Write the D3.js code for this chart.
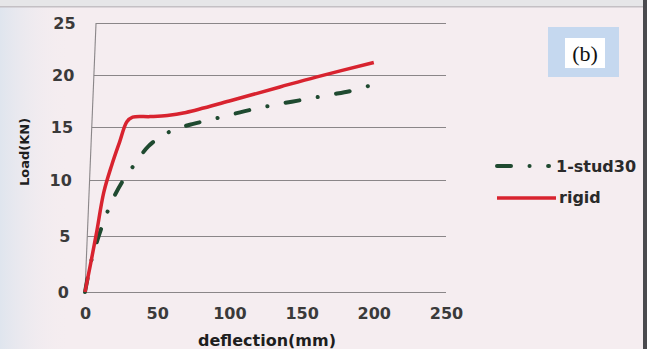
<!DOCTYPE html>
<html>
<head>
<meta charset="utf-8">
<script src="https://cdn.jsdelivr.net/npm/d3@7"></script>
<style>
  html, body { margin: 0; padding: 0; background: #f5edf0; }
  svg { display: block; }
  text { font-family: "DejaVu Sans", sans-serif; }
</style>
</head>
<body>
<svg id="chart" width="647" height="349"></svg>
<script>
"use strict";
// values (deflection mm, load kN)
var xTicks = [0, 50, 100, 150, 200, 250];
var yTicks = [0, 5, 10, 15, 20, 25];

var rigidDefl = [0, 4, 8, 13, 18.5, 24, 29, 33, 45, 57, 70, 100, 135, 160, 200];
var rigidLoad = [0, 2.6, 5.3, 8.9, 11.4, 13.6, 15.5, 15.95, 16.0, 16.1, 16.4, 17.5, 18.85, 19.8, 21.2];

var studDefl = [0, 4, 8, 13, 19, 25.6, 35, 44, 55, 65, 75, 90, 110, 130, 150, 170, 185, 200];
var studLoad = [0, 2.6, 4.4, 6.3, 8.2, 9.8, 11.6, 13.2, 14.3, 14.9, 15.3, 15.8, 16.5, 17.1, 17.6, 18.1, 18.5, 19.1];

var seriesNames = ["1-stud30", "rigid"];
var seriesColors = ["#1f4a30", "#d8232f"];
var dashStud = "14,18.5,0.1,18.5";

var svg = d3.select("#chart");
var W = 647, H = 349;

// photo background
var defs = svg.append("defs");
var grad = defs.append("linearGradient").attr("id", "leftFade");
grad.append("stop").attr("offset", "0%").attr("stop-color", "#dfe5ee");
grad.append("stop").attr("offset", "100%").attr("stop-color", "#f5edf0").attr("stop-opacity", 0);
svg.append("rect").attr("width", W).attr("height", H).attr("fill", "#f5edf0");
svg.append("rect").attr("width", 70).attr("height", H).attr("fill", "url(#leftFade)");
svg.append("rect").attr("width", W).attr("height", 6).attr("fill", "#e6e6e8");
svg.append("rect").attr("y", 6).attr("width", W).attr("height", 1.5).attr("fill", "#c4c0c4");
svg.append("rect").attr("x", 643).attr("width", 4).attr("height", H).attr("fill", "#4a4a4e");

var x = d3.scaleLinear().domain([0, 250]).range([85, 446]);
// photo perspective: gridlines are not evenly spaced
var y = d3.scaleLinear().domain(yTicks).range([292, 236, 180, 127, 75, 23]);

// left edge of the plot leans to the right going up
function lean(v) { return (y(0) - y(v)) * 0.041; }

// grid + y labels
var gy = svg.append("g")
  .attr("transform", "translate(" + x(0) + ",0)")
  .call(d3.axisLeft(y).tickValues(yTicks).tickSize(-(x(250) - x(0))).tickPadding(16));
gy.select(".domain").remove();
gy.selectAll(".tick line")
  .attr("x1", function (d) { return lean(d); })
  .attr("stroke", "#8a8688").attr("stroke-width", 1.1);
gy.selectAll(".tick text")
  .attr("x", function (d) { return -16 + lean(d) * 0.6; })
  .attr("fill", "#3a3a3a").style("font-size", "16px").style("font-weight", "bold");

// x labels
var gx = svg.append("g")
  .attr("transform", "translate(0," + y(0) + ")")
  .call(d3.axisBottom(x).tickValues(xTicks).tickSize(0).tickPadding(16));
gx.select(".domain").remove();
gx.selectAll(".tick text")
  .attr("fill", "#3a3a3a").style("font-size", "16px").style("font-weight", "bold");

// vertical axis line
svg.append("line")
  .attr("x1", x(0)).attr("x2", x(0) + lean(25)).attr("y1", y(0)).attr("y2", y(25))
  .attr("stroke", "#8a8688").attr("stroke-width", 1.1);

var line = d3.line()
  .x(function (d) { return x(d[0]); })
  .y(function (d) { return y(d[1]); })
  .curve(d3.curveCatmullRom.alpha(0.5));

var studPts = d3.zip(studDefl, studLoad);
var rigidPts = d3.zip(rigidDefl, rigidLoad);

svg.append("path").datum(studPts)
  .attr("d", line).attr("fill", "none")
  .attr("stroke", seriesColors[0]).attr("stroke-width", 4)
  .attr("stroke-linecap", "round").attr("stroke-dasharray", dashStud);

svg.append("path").datum(rigidPts)
  .attr("d", line).attr("fill", "none")
  .attr("stroke", seriesColors[1]).attr("stroke-width", 3.5)
  .attr("stroke-linejoin", "round");

// legend
var leg = svg.append("g");
leg.append("line")
  .attr("x1", 497).attr("x2", 549).attr("y1", 166).attr("y2", 166)
  .attr("stroke", seriesColors[0]).attr("stroke-width", 4)
  .attr("stroke-linecap", "round").attr("stroke-dasharray", dashStud);
leg.append("text").attr("x", 556).attr("y", 172)
  .attr("fill", "#2a2a2a").style("font-size", "16px").style("font-weight", "bold")
  .text(seriesNames[0]);
leg.append("line")
  .attr("x1", 497).attr("x2", 556).attr("y1", 198).attr("y2", 198)
  .attr("stroke", seriesColors[1]).attr("stroke-width", 3.5);
leg.append("text").attr("x", 559).attr("y", 203)
  .attr("fill", "#2a2a2a").style("font-size", "16px").style("font-weight", "bold")
  .text(seriesNames[1]);

// axis titles
svg.append("text")
  .attr("x", 267).attr("y", 346).attr("text-anchor", "middle")
  .attr("fill", "#1e1e1e").style("font-size", "16px").style("font-weight", "bold")
  .text("deflection(mm)");
svg.append("text")
  .attr("transform", "translate(29,152) rotate(-90)").attr("text-anchor", "middle")
  .attr("fill", "#1e1e1e").style("font-size", "13px").style("font-weight", "bold")
  .text("Load(KN)");

// (b) label box
svg.append("rect").attr("x", 548).attr("y", 27).attr("width", 71).attr("height", 50)
  .attr("fill", "#c5d8ef");
svg.append("rect").attr("x", 565).attr("y", 38).attr("width", 40).attr("height", 30)
  .attr("fill", "#ffffff");
svg.append("text").attr("x", 585).attr("y", 61).attr("text-anchor", "middle")
  .attr("fill", "#111").style("font-family", "'Liberation Serif', serif").style("font-size", "22px")
  .text("(b)");
</script>
</body>
</html>
